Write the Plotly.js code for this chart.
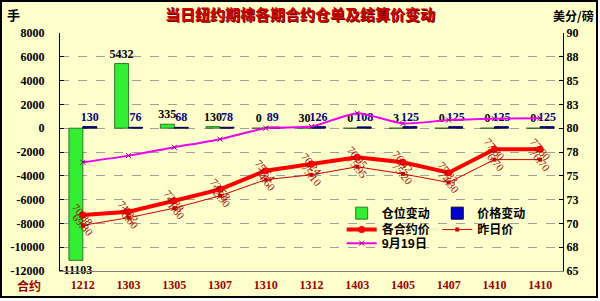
<!DOCTYPE html>
<html>
<head>
<meta charset="utf-8">
<script src="https://cdn.plot.ly/plotly-3.0.1.min.js"></script>
<style>
html,body{margin:0;padding:0;background:#ffffff;}
#wrap{position:relative;width:600px;height:301px;}
#bg{position:absolute;left:0;top:0;width:598px;height:298px;box-sizing:border-box;border:2px solid #000;background:#FFFFCC;}
#chart{position:absolute;left:0;top:0;width:600px;height:301px;}
</style>
</head>
<body>
<div id="wrap"><div id="bg"></div><div id="chart"></div></div>
<script>
// ---- data ----
const contracts = ['1212','1303','1305','1307','1310','1312','1403','1405','1407','1410','1410'];
const positionChange = [-11103, 5432, 335, 130, 0, 30, 0, 3, 0, 0, 0];
const priceChange = [130, 76, 68, 78, 89, 126, 108, 125, 125, 125, 125];
const settlePrice = [70.88, 71.22, 72.38, 73.58, 75.54, 76.24, 76.95, 76.42, 75.33, 77.80, 77.80];
const prevPrice = [69.80, 70.60, 71.60, 72.90, 74.60, 75.10, 75.95, 75.20, 74.30, 76.70, 76.70];
const sep19Price = [76.42, 77.12, 78.00, 78.85, 80.00, 80.17, 81.58, 80.50, 80.85, 81.00, 81.05];
const leftTickVals = [-12000, -10000, -8000, -6000, -4000, -2000, 0, 2000, 4000, 6000, 8000];
const rightTickVals = [65, 67.5, 70, 72.5, 75, 77.5, 80, 82.5, 85, 87.5, 90];
const rightTickText = ['65','68','70','73','75','78','80','83','85','88','90'];

const idx = contracts.map((_, i) => i);
const bounds = contracts.map((_, i) => i - 0.5).concat([contracts.length - 0.5]);

const numFont = {family: 'Liberation Serif, Times New Roman, serif', size: 12, weight: 'bold'};
const cjk = 'Noto Sans CJK SC, sans-serif';

const traces = [
  {type: 'bar', name: '仓位变动', x: idx, y: positionChange, legend: 'legend',
   marker: {color: '#33EE33', line: {color: '#1a5a1a', width: 0.8}},
   text: positionChange.map(String), textposition: 'outside', cliponaxis: false,
   constraintext: 'none', textfont: Object.assign({}, numFont, {color: '#000000'}), hoverinfo: 'skip'},
  {type: 'bar', name: '价格变动', x: idx, y: priceChange, legend: 'legend2',
   marker: {color: '#0000CC', line: {color: '#000040', width: 1}},
   text: priceChange.map(String), textposition: 'outside', cliponaxis: false,
   constraintext: 'none', textfont: Object.assign({}, numFont, {color: '#000080'}), hoverinfo: 'skip'},
  {type: 'scatter', mode: 'lines+markers', name: '各合约价', x: idx, y: settlePrice, yaxis: 'y2', legend: 'legend3',
   line: {color: '#FF0000', width: 4}, marker: {color: '#FF0000', size: 7, symbol: 'circle'}, hoverinfo: 'skip'},
  {type: 'scatter', mode: 'lines+markers', name: '昨日价', x: idx, y: prevPrice, yaxis: 'y2', legend: 'legend4',
   line: {color: '#CC0000', width: 1}, marker: {color: '#CC0000', size: 4, symbol: 'square'}, hoverinfo: 'skip'},
  {type: 'scatter', mode: 'lines+markers', name: '9月19日', x: idx, y: sep19Price, yaxis: 'y2', legend: 'legend5',
   line: {color: '#EE00EE', width: 2, shape: 'spline', smoothing: 0.6},
   marker: {color: '#800080', size: 5, symbol: 'x-thin', line: {color: '#800080', width: 1}}, hoverinfo: 'skip'}
];

const labelFont = {family: 'Liberation Serif, Times New Roman, serif', size: 11, color: '#A00000'};
const annotations = [];
idx.forEach(i => {
  annotations.push({x: i, y: settlePrice[i], xref: 'x', yref: 'y2', text: settlePrice[i].toFixed(2),
    textangle: 50, showarrow: false, font: labelFont});
  annotations.push({x: i, y: prevPrice[i], xref: 'x', yref: 'y2', text: prevPrice[i].toFixed(2),
    textangle: 50, showarrow: false, font: labelFont});
});
annotations.push({text: '手', xref: 'paper', yref: 'paper', x: -0.093, y: 1.076, xanchor: 'center', yanchor: 'middle',
  showarrow: false, font: {family: cjk, size: 13, weight: 'bold', color: '#000'}});
annotations.push({text: '美分/磅', xref: 'paper', yref: 'paper', x: 1.02, y: 1.072, xanchor: 'center', yanchor: 'middle',
  showarrow: false, font: {family: cjk, size: 12, weight: 'bold', color: '#000'}});
annotations.push({text: '合约', xref: 'paper', yref: 'paper', x: -0.062, y: -0.059, xanchor: 'center', yanchor: 'middle',
  showarrow: false, font: {family: cjk, size: 12, weight: 'bold', color: '#990000'}});

const legFont = {family: cjk, size: 12, weight: 'bold', color: '#000'};
function leg(x, y) {
  return {x: x, y: y, xanchor: 'left', yanchor: 'top', bgcolor: 'rgba(0,0,0,0)', font: legFont,
    tracegroupgap: 0};
}

const layout = {
  width: 600, height: 301,
  margin: {l: 60, r: 37, t: 33, b: 30, pad: 0},
  paper_bgcolor: 'rgba(0,0,0,0)', plot_bgcolor: 'rgba(0,0,0,0)',
  title: {text: '当日纽约期棉各期合约仓单及结算价变动', x: 0.5, xref: 'container', y: 0.95, yanchor: 'middle',
    font: {family: cjk, size: 15, weight: 'bold', color: '#D00000', shadow: '1px 1px 0px #600'}},
  barmode: 'group', bargap: 0.39, bargroupgap: 0,
  showlegend: true,
  xaxis: {range: [-0.5, contracts.length - 0.5], tickvals: idx, ticktext: contracts, ticks: '',
    showline: true, linecolor: '#808080', linewidth: 1, showgrid: false, zeroline: false,
    tickfont: Object.assign({}, numFont, {color: '#990000'}), ticklabelstandoff: 3, fixedrange: true},
  xaxis2: {overlaying: 'x', anchor: 'free', position: 0.6, range: [-0.5, contracts.length - 0.5],
    tickvals: bounds, ticks: 'inside', ticklen: 4, tickcolor: '#000', showticklabels: false,
    showline: true, linecolor: '#000', linewidth: 1, showgrid: false, zeroline: false},
  yaxis: {range: [-12000, 8000], tickvals: leftTickVals, ticktext: leftTickVals.map(String),
    ticks: 'inside', ticklen: 4, tickcolor: '#000',
    showline: true, linecolor: '#000', linewidth: 1, showgrid: true, gridcolor: '#A0A0A0', griddash: 'dash',
    gridwidth: 1, zeroline: false, tickfont: Object.assign({}, numFont, {color: '#000'}), ticklabelstandoff: 12},
  yaxis2: {overlaying: 'y', side: 'right', range: [65, 90], tickvals: rightTickVals, ticktext: rightTickText,
    ticks: 'inside', ticklen: 4, tickcolor: '#000', showline: true, linecolor: '#000', linewidth: 1,
    showgrid: false, zeroline: false, tickfont: Object.assign({}, numFont, {color: '#000'})},
  legend: leg(0.56, 0.304),
  legend2: leg(0.75, 0.304),
  legend3: leg(0.56, 0.235),
  legend4: leg(0.75, 0.235),
  legend5: leg(0.56, 0.178),
  annotations: annotations
};

Plotly.newPlot('chart', traces, layout, {staticPlot: true, displayModeBar: false});
</script>
</body>
</html>
